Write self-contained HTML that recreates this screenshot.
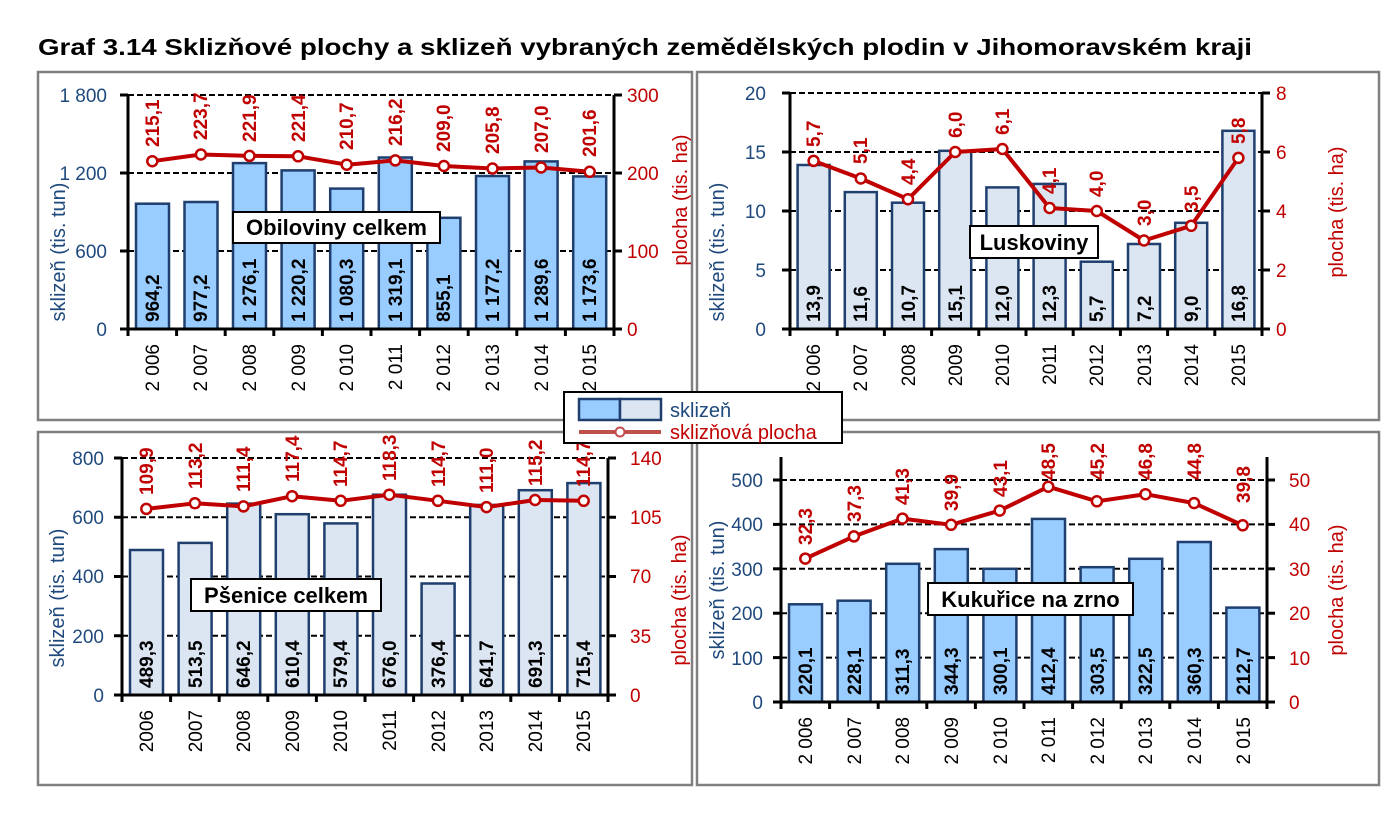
<!DOCTYPE html>
<html><head><meta charset="utf-8"><style>
body{margin:0;background:#fff;width:1388px;height:821px;overflow:hidden}
svg{font-family:"Liberation Sans",Arial,sans-serif}
.tl{font-size:19px;fill:#1f497d;text-anchor:end}
.tr{font-size:19px;fill:#c00000}
.yr{font-size:19px;fill:#000;text-anchor:end}
.bl{font-size:19px;font-weight:bold;fill:#000}
.rl{font-size:19px;font-weight:bold;fill:#c00000}
.at{font-size:20px;fill:#1f497d;text-anchor:middle}
.ar{font-size:20px;fill:#c00000;text-anchor:middle}
.g{stroke:#000;stroke-width:2;stroke-dasharray:6,3}
.b1{fill:#99ccff;stroke:#1f3f6e;stroke-width:2.5}
.b2{fill:#dce6f2;stroke:#1f3f6e;stroke-width:2.5}
.ln{fill:none;stroke:#c00000;stroke-width:4;stroke-linejoin:round}
.mk{fill:#fff;stroke:#c00000;stroke-width:2.5}
.ax{stroke:#000;stroke-width:3}
.lb{font-size:22px;font-weight:bold;fill:#000;text-anchor:middle}
</style></head><body>
<svg width="1388" height="821" xmlns="http://www.w3.org/2000/svg">
<text x="38" y="55" textLength="1214" lengthAdjust="spacingAndGlyphs" style="font-size:23px;font-weight:bold">Graf 3.14 Sklizňové plochy a sklizeň vybraných zemědělských plodin v Jihomoravském kraji</text>
<rect x="38" y="72" width="654" height="348" fill="none" stroke="#808080" stroke-width="2.5"/>
<rect x="697" y="72" width="682" height="348" fill="none" stroke="#808080" stroke-width="2.5"/>
<rect x="38" y="432" width="654" height="353" fill="none" stroke="#808080" stroke-width="2.5"/>
<rect x="697" y="432" width="682" height="353" fill="none" stroke="#808080" stroke-width="2.5"/>

<!-- Chart 1 -->
<g>
<line class="g" x1="128" y1="95" x2="614" y2="95"/><line class="g" x1="128" y1="173" x2="614" y2="173"/><line class="g" x1="128" y1="251" x2="614" y2="251"/>
<rect class="b1" x="136" y="203.7" width="33" height="125.3"/><rect class="b1" x="184.5" y="202" width="33" height="127"/><rect class="b1" x="233" y="163.1" width="33" height="165.9"/><rect class="b1" x="281.6" y="170.4" width="33" height="158.6"/><rect class="b1" x="330.2" y="188.6" width="33" height="140.4"/><rect class="b1" x="378.8" y="157.5" width="33" height="171.5"/><rect class="b1" x="427.4" y="217.8" width="33" height="111.2"/><rect class="b1" x="476" y="176" width="33" height="153"/><rect class="b1" x="524.6" y="161.4" width="33" height="167.6"/><rect class="b1" x="573.2" y="176.4" width="33" height="152.6"/>
<line class="ax" x1="128" y1="95" x2="128" y2="336"/><line class="ax" x1="614" y1="95" x2="614" y2="336"/><line class="ax" x1="120" y1="329" x2="622" y2="329"/>
<line class="ax" x1="120" y1="95" x2="128" y2="95"/><line class="ax" x1="120" y1="173" x2="128" y2="173"/><line class="ax" x1="120" y1="251" x2="128" y2="251"/>
<line class="ax" x1="614" y1="95" x2="622" y2="95"/><line class="ax" x1="614" y1="173" x2="622" y2="173"/><line class="ax" x1="614" y1="251" x2="622" y2="251"/>
<g class="ax"><line x1="176.6" y1="329" x2="176.6" y2="336"/><line x1="225.2" y1="329" x2="225.2" y2="336"/><line x1="273.8" y1="329" x2="273.8" y2="336"/><line x1="322.4" y1="329" x2="322.4" y2="336"/><line x1="371" y1="329" x2="371" y2="336"/><line x1="419.6" y1="329" x2="419.6" y2="336"/><line x1="468.2" y1="329" x2="468.2" y2="336"/><line x1="516.8" y1="329" x2="516.8" y2="336"/><line x1="565.4" y1="329" x2="565.4" y2="336"/></g>
<polyline class="ln" points="152.3,161.2 200.9,154.5 249.5,155.9 298.1,156.3 346.7,164.7 395.3,160.4 443.9,166 492.5,168.5 541.1,167.5 589.7,171.8"/>
<circle class="mk" cx="152.3" cy="161.2" r="5"/><circle class="mk" cx="200.9" cy="154.5" r="5"/><circle class="mk" cx="249.5" cy="155.9" r="5"/><circle class="mk" cx="298.1" cy="156.3" r="5"/><circle class="mk" cx="346.7" cy="164.7" r="5"/><circle class="mk" cx="395.3" cy="160.4" r="5"/><circle class="mk" cx="443.9" cy="166" r="5"/><circle class="mk" cx="492.5" cy="168.5" r="5"/><circle class="mk" cx="541.1" cy="167.5" r="5"/><circle class="mk" cx="589.7" cy="171.8" r="5"/>
<text class="rl" transform="translate(159,147) rotate(-90)">215,1</text><text class="rl" transform="translate(207,140) rotate(-90)">223,7</text><text class="rl" transform="translate(256,142) rotate(-90)">221,9</text><text class="rl" transform="translate(305,142) rotate(-90)">221,4</text><text class="rl" transform="translate(353,150) rotate(-90)">210,7</text><text class="rl" transform="translate(402,146) rotate(-90)">216,2</text><text class="rl" transform="translate(450,152) rotate(-90)">209,0</text><text class="rl" transform="translate(499,154) rotate(-90)">205,8</text><text class="rl" transform="translate(548,153) rotate(-90)">207,0</text><text class="rl" transform="translate(596,157) rotate(-90)">201,6</text>
<text class="bl" transform="translate(159,322) rotate(-90)">964,2</text><text class="bl" transform="translate(207,322) rotate(-90)">977,2</text><text class="bl" transform="translate(256,322) rotate(-90)">1 276,1</text><text class="bl" transform="translate(305,322) rotate(-90)">1 220,2</text><text class="bl" transform="translate(353,322) rotate(-90)">1 080,3</text><text class="bl" transform="translate(402,322) rotate(-90)">1 319,1</text><text class="bl" transform="translate(450,322) rotate(-90)">855,1</text><text class="bl" transform="translate(499,322) rotate(-90)">1 177,2</text><text class="bl" transform="translate(548,322) rotate(-90)">1 289,6</text><text class="bl" transform="translate(596,322) rotate(-90)">1 173,6</text>
<text class="yr" transform="translate(159,344) rotate(-90)">2 006</text><text class="yr" transform="translate(207,344) rotate(-90)">2 007</text><text class="yr" transform="translate(256,344) rotate(-90)">2 008</text><text class="yr" transform="translate(305,344) rotate(-90)">2 009</text><text class="yr" transform="translate(353,344) rotate(-90)">2 010</text><text class="yr" transform="translate(402,344) rotate(-90)">2 011</text><text class="yr" transform="translate(450,344) rotate(-90)">2 012</text><text class="yr" transform="translate(499,344) rotate(-90)">2 013</text><text class="yr" transform="translate(548,344) rotate(-90)">2 014</text><text class="yr" transform="translate(596,344) rotate(-90)">2 015</text>
<text class="tl" x="107" y="102">1 800</text><text class="tl" x="107" y="180">1 200</text><text class="tl" x="107" y="258">600</text><text class="tl" x="107" y="336">0</text>
<text class="tr" x="627" y="102">300</text><text class="tr" x="627" y="180">200</text><text class="tr" x="627" y="258">100</text><text class="tr" x="627" y="336">0</text>
<text class="at" transform="translate(65,252) rotate(-90)">sklizeň (tis. tun)</text>
<text class="ar" transform="translate(687,200) rotate(-90)">plocha (tis. ha)</text>
<rect x="233" y="212" width="207" height="31" fill="#fff" stroke="#000" stroke-width="2"/><text class="lb" x="336.5" y="235">Obiloviny celkem</text>
</g>

<!-- Chart 2 -->
<g>
<line class="g" x1="790" y1="93" x2="1262" y2="93"/><line class="g" x1="790" y1="152" x2="1262" y2="152"/><line class="g" x1="790" y1="211" x2="1262" y2="211"/><line class="g" x1="790" y1="270" x2="1262" y2="270"/>
<rect class="b2" x="797.6" y="165" width="32" height="164"/><rect class="b2" x="844.8" y="192.1" width="32" height="136.9"/><rect class="b2" x="892" y="202.7" width="32" height="126.3"/><rect class="b2" x="939.2" y="150.8" width="32" height="178.2"/><rect class="b2" x="986.4" y="187.4" width="32" height="141.6"/><rect class="b2" x="1033.6" y="183.9" width="32" height="145.1"/><rect class="b2" x="1080.8" y="261.7" width="32" height="67.3"/><rect class="b2" x="1128" y="244" width="32" height="85"/><rect class="b2" x="1175.2" y="222.8" width="32" height="106.2"/><rect class="b2" x="1222.4" y="130.8" width="32" height="198.2"/>
<line class="ax" x1="790" y1="93" x2="790" y2="336"/><line class="ax" x1="1262" y1="93" x2="1262" y2="336"/><line class="ax" x1="782" y1="329" x2="1270" y2="329"/>
<g class="ax"><line x1="782" y1="93" x2="790" y2="93"/><line x1="782" y1="152" x2="790" y2="152"/><line x1="782" y1="211" x2="790" y2="211"/><line x1="782" y1="270" x2="790" y2="270"/>
<line x1="1262" y1="93" x2="1270" y2="93"/><line x1="1262" y1="152" x2="1270" y2="152"/><line x1="1262" y1="211" x2="1270" y2="211"/><line x1="1262" y1="270" x2="1270" y2="270"/>
<line x1="837.2" y1="329" x2="837.2" y2="336"/><line x1="884.4" y1="329" x2="884.4" y2="336"/><line x1="931.6" y1="329" x2="931.6" y2="336"/><line x1="978.8" y1="329" x2="978.8" y2="336"/><line x1="1026" y1="329" x2="1026" y2="336"/><line x1="1073.2" y1="329" x2="1073.2" y2="336"/><line x1="1120.4" y1="329" x2="1120.4" y2="336"/><line x1="1167.6" y1="329" x2="1167.6" y2="336"/><line x1="1214.8" y1="329" x2="1214.8" y2="336"/></g>
<polyline class="ln" points="813.6,160.9 860.8,178.5 908,199.2 955.2,152 1002.4,149 1049.6,208 1096.8,211 1144,240.5 1191.2,225.8 1238.4,157.9"/>
<circle class="mk" cx="813.6" cy="160.9" r="5"/><circle class="mk" cx="860.8" cy="178.5" r="5"/><circle class="mk" cx="908" cy="199.2" r="5"/><circle class="mk" cx="955.2" cy="152" r="5"/><circle class="mk" cx="1002.4" cy="149" r="5"/><circle class="mk" cx="1049.6" cy="208" r="5"/><circle class="mk" cx="1096.8" cy="211" r="5"/><circle class="mk" cx="1144" cy="240.5" r="5"/><circle class="mk" cx="1191.2" cy="225.8" r="5"/><circle class="mk" cx="1238.4" cy="157.9" r="5"/>
<text class="rl" transform="translate(820,147) rotate(-90)">5,7</text><text class="rl" transform="translate(867,164) rotate(-90)">5,1</text><text class="rl" transform="translate(915,185) rotate(-90)">4,4</text><text class="rl" transform="translate(962,138) rotate(-90)">6,0</text><text class="rl" transform="translate(1009,135) rotate(-90)">6,1</text><text class="rl" transform="translate(1056,194) rotate(-90)">4,1</text><text class="rl" transform="translate(1103,197) rotate(-90)">4,0</text><text class="rl" transform="translate(1151,226) rotate(-90)">3,0</text><text class="rl" transform="translate(1198,212) rotate(-90)">3,5</text><text class="rl" transform="translate(1245,144) rotate(-90)">5,8</text>
<text class="bl" transform="translate(820,322) rotate(-90)">13,9</text><text class="bl" transform="translate(867,322) rotate(-90)">11,6</text><text class="bl" transform="translate(915,322) rotate(-90)">10,7</text><text class="bl" transform="translate(962,322) rotate(-90)">15,1</text><text class="bl" transform="translate(1009,322) rotate(-90)">12,0</text><text class="bl" transform="translate(1056,322) rotate(-90)">12,3</text><text class="bl" transform="translate(1103,322) rotate(-90)">5,7</text><text class="bl" transform="translate(1151,322) rotate(-90)">7,2</text><text class="bl" transform="translate(1198,322) rotate(-90)">9,0</text><text class="bl" transform="translate(1245,322) rotate(-90)">16,8</text>
<text class="yr" transform="translate(820,344) rotate(-90)">2 006</text><text class="yr" transform="translate(867,344) rotate(-90)">2 007</text><text class="yr" transform="translate(915,344) rotate(-90)">2008</text><text class="yr" transform="translate(962,344) rotate(-90)">2009</text><text class="yr" transform="translate(1009,344) rotate(-90)">2010</text><text class="yr" transform="translate(1056,344) rotate(-90)">2011</text><text class="yr" transform="translate(1103,344) rotate(-90)">2012</text><text class="yr" transform="translate(1151,344) rotate(-90)">2013</text><text class="yr" transform="translate(1198,344) rotate(-90)">2014</text><text class="yr" transform="translate(1245,344) rotate(-90)">2015</text>
<text class="tl" x="766" y="100">20</text><text class="tl" x="766" y="159">15</text><text class="tl" x="766" y="218">10</text><text class="tl" x="766" y="277">5</text><text class="tl" x="766" y="336">0</text>
<text class="tr" x="1276" y="100">8</text><text class="tr" x="1276" y="159">6</text><text class="tr" x="1276" y="218">4</text><text class="tr" x="1276" y="277">2</text><text class="tr" x="1276" y="336">0</text>
<text class="at" transform="translate(724,252) rotate(-90)">sklizeň (tis. tun)</text>
<text class="ar" transform="translate(1343,212) rotate(-90)">plocha (tis. ha)</text>
<rect x="970" y="226" width="128" height="32" fill="#fff" stroke="#000" stroke-width="2"/><text class="lb" x="1034" y="250">Luskoviny</text>
</g>

<!-- Chart 3 -->
<g>
<line class="g" x1="122" y1="458" x2="608" y2="458"/><line class="g" x1="122" y1="517.25" x2="608" y2="517.25"/><line class="g" x1="122" y1="576.5" x2="608" y2="576.5"/><line class="g" x1="122" y1="635.75" x2="608" y2="635.75"/>
<rect class="b2" x="130" y="550" width="33" height="145"/><rect class="b2" x="178.6" y="542.9" width="33" height="152.1"/><rect class="b2" x="227.2" y="503.6" width="33" height="191.4"/><rect class="b2" x="275.8" y="514.2" width="33" height="180.8"/><rect class="b2" x="324.4" y="523.4" width="33" height="171.6"/><rect class="b2" x="373" y="494.7" width="33" height="200.3"/><rect class="b2" x="421.6" y="583.5" width="33" height="111.5"/><rect class="b2" x="470.2" y="504.9" width="33" height="190.1"/><rect class="b2" x="518.8" y="490.2" width="33" height="204.8"/><rect class="b2" x="567.4" y="483.1" width="33" height="211.9"/>
<line class="ax" x1="122" y1="458" x2="122" y2="702"/><line class="ax" x1="608" y1="458" x2="608" y2="702"/><line class="ax" x1="114" y1="695" x2="616" y2="695"/>
<g class="ax"><line x1="114" y1="458" x2="122" y2="458"/><line x1="114" y1="517.25" x2="122" y2="517.25"/><line x1="114" y1="576.5" x2="122" y2="576.5"/><line x1="114" y1="635.75" x2="122" y2="635.75"/>
<line x1="608" y1="458" x2="616" y2="458"/><line x1="608" y1="517.25" x2="616" y2="517.25"/><line x1="608" y1="576.5" x2="616" y2="576.5"/><line x1="608" y1="635.75" x2="616" y2="635.75"/>
<line x1="170.6" y1="695" x2="170.6" y2="702"/><line x1="219.2" y1="695" x2="219.2" y2="702"/><line x1="267.8" y1="695" x2="267.8" y2="702"/><line x1="316.4" y1="695" x2="316.4" y2="702"/><line x1="365" y1="695" x2="365" y2="702"/><line x1="413.6" y1="695" x2="413.6" y2="702"/><line x1="462.2" y1="695" x2="462.2" y2="702"/><line x1="510.8" y1="695" x2="510.8" y2="702"/><line x1="559.4" y1="695" x2="559.4" y2="702"/></g>
<polyline class="ln" points="146.3,508.9 194.9,503.3 243.5,506.4 292.1,496.2 340.7,500.8 389.3,494.7 437.9,500.8 486.5,507.1 535.1,500 583.7,500.8"/>
<circle class="mk" cx="146.3" cy="508.9" r="5"/><circle class="mk" cx="194.9" cy="503.3" r="5"/><circle class="mk" cx="243.5" cy="506.4" r="5"/><circle class="mk" cx="292.1" cy="496.2" r="5"/><circle class="mk" cx="340.7" cy="500.8" r="5"/><circle class="mk" cx="389.3" cy="494.7" r="5"/><circle class="mk" cx="437.9" cy="500.8" r="5"/><circle class="mk" cx="486.5" cy="507.1" r="5"/><circle class="mk" cx="535.1" cy="500" r="5"/><circle class="mk" cx="583.7" cy="500.8" r="5"/>
<text class="rl" transform="translate(153,495) rotate(-90)">109,9</text><text class="rl" transform="translate(202,489) rotate(-90)">113,2</text><text class="rl" transform="translate(250,492) rotate(-90)">111,4</text><text class="rl" transform="translate(299,482) rotate(-90)">117,4</text><text class="rl" transform="translate(347,487) rotate(-90)">114,7</text><text class="rl" transform="translate(396,481) rotate(-90)">118,3</text><text class="rl" transform="translate(445,487) rotate(-90)">114,7</text><text class="rl" transform="translate(493,493) rotate(-90)">111,0</text><text class="rl" transform="translate(542,486) rotate(-90)">115,2</text><text class="rl" transform="translate(590,487) rotate(-90)">114,7</text>
<text class="bl" transform="translate(153,688) rotate(-90)">489,3</text><text class="bl" transform="translate(202,688) rotate(-90)">513,5</text><text class="bl" transform="translate(250,688) rotate(-90)">646,2</text><text class="bl" transform="translate(299,688) rotate(-90)">610,4</text><text class="bl" transform="translate(347,688) rotate(-90)">579,4</text><text class="bl" transform="translate(396,688) rotate(-90)">676,0</text><text class="bl" transform="translate(445,688) rotate(-90)">376,4</text><text class="bl" transform="translate(493,688) rotate(-90)">641,7</text><text class="bl" transform="translate(542,688) rotate(-90)">691,3</text><text class="bl" transform="translate(590,688) rotate(-90)">715,4</text>
<text class="yr" transform="translate(153,710) rotate(-90)">2006</text><text class="yr" transform="translate(202,710) rotate(-90)">2007</text><text class="yr" transform="translate(250,710) rotate(-90)">2008</text><text class="yr" transform="translate(299,710) rotate(-90)">2009</text><text class="yr" transform="translate(347,710) rotate(-90)">2010</text><text class="yr" transform="translate(396,710) rotate(-90)">2011</text><text class="yr" transform="translate(445,710) rotate(-90)">2012</text><text class="yr" transform="translate(493,710) rotate(-90)">2013</text><text class="yr" transform="translate(542,710) rotate(-90)">2014</text><text class="yr" transform="translate(590,710) rotate(-90)">2015</text>
<text class="tl" x="104" y="465">800</text><text class="tl" x="104" y="524">600</text><text class="tl" x="104" y="583">400</text><text class="tl" x="104" y="643">200</text><text class="tl" x="104" y="702">0</text>
<text class="tr" x="630" y="465">140</text><text class="tr" x="630" y="524">105</text><text class="tr" x="630" y="583">70</text><text class="tr" x="630" y="643">35</text><text class="tr" x="630" y="702">0</text>
<text class="at" transform="translate(64,598) rotate(-90)">sklizeň (tis. tun)</text>
<text class="ar" transform="translate(686,600) rotate(-90)">plocha (tis. ha)</text>
<rect x="191" y="579" width="190" height="32" fill="#fff" stroke="#000" stroke-width="2"/><text class="lb" x="286" y="603">Pšenice celkem</text>
</g>

<!-- Chart 4 -->
<g>
<line class="g" x1="781" y1="480" x2="1267" y2="480"/><line class="g" x1="781" y1="524.4" x2="1267" y2="524.4"/><line class="g" x1="781" y1="568.8" x2="1267" y2="568.8"/><line class="g" x1="781" y1="613.2" x2="1267" y2="613.2"/><line class="g" x1="781" y1="657.6" x2="1267" y2="657.6"/>
<rect class="b1" x="789" y="604.3" width="33" height="97.7"/><rect class="b1" x="837.6" y="600.7" width="33" height="101.3"/><rect class="b1" x="886.2" y="563.8" width="33" height="138.2"/><rect class="b1" x="934.8" y="549.1" width="33" height="152.9"/><rect class="b1" x="983.4" y="568.8" width="33" height="133.2"/><rect class="b1" x="1032" y="518.9" width="33" height="183.1"/><rect class="b1" x="1080.6" y="567.2" width="33" height="134.8"/><rect class="b1" x="1129.2" y="558.8" width="33" height="143.2"/><rect class="b1" x="1177.8" y="542" width="33" height="160"/><rect class="b1" x="1226.4" y="607.6" width="33" height="94.4"/>
<line class="ax" x1="781" y1="457" x2="781" y2="709"/><line class="ax" x1="1267" y1="457" x2="1267" y2="709"/><line class="ax" x1="773" y1="702" x2="1275" y2="702"/>
<g class="ax"><line x1="773" y1="480" x2="781" y2="480"/><line x1="773" y1="524.4" x2="781" y2="524.4"/><line x1="773" y1="568.8" x2="781" y2="568.8"/><line x1="773" y1="613.2" x2="781" y2="613.2"/><line x1="773" y1="657.6" x2="781" y2="657.6"/>
<line x1="1267" y1="480" x2="1275" y2="480"/><line x1="1267" y1="524.4" x2="1275" y2="524.4"/><line x1="1267" y1="568.8" x2="1275" y2="568.8"/><line x1="1267" y1="613.2" x2="1275" y2="613.2"/><line x1="1267" y1="657.6" x2="1275" y2="657.6"/>
<line x1="829.6" y1="702" x2="829.6" y2="709"/><line x1="878.2" y1="702" x2="878.2" y2="709"/><line x1="926.8" y1="702" x2="926.8" y2="709"/><line x1="975.4" y1="702" x2="975.4" y2="709"/><line x1="1024" y1="702" x2="1024" y2="709"/><line x1="1072.6" y1="702" x2="1072.6" y2="709"/><line x1="1121.2" y1="702" x2="1121.2" y2="709"/><line x1="1169.8" y1="702" x2="1169.8" y2="709"/><line x1="1218.4" y1="702" x2="1218.4" y2="709"/></g>
<polyline class="ln" points="805.3,558.6 853.9,536.4 902.5,518.6 951.1,524.8 999.7,510.6 1048.3,486.7 1096.9,501.3 1145.5,494.2 1194.1,503.1 1242.7,525.3"/>
<circle class="mk" cx="805.3" cy="558.6" r="5"/><circle class="mk" cx="853.9" cy="536.4" r="5"/><circle class="mk" cx="902.5" cy="518.6" r="5"/><circle class="mk" cx="951.1" cy="524.8" r="5"/><circle class="mk" cx="999.7" cy="510.6" r="5"/><circle class="mk" cx="1048.3" cy="486.7" r="5"/><circle class="mk" cx="1096.9" cy="501.3" r="5"/><circle class="mk" cx="1145.5" cy="494.2" r="5"/><circle class="mk" cx="1194.1" cy="503.1" r="5"/><circle class="mk" cx="1242.7" cy="525.3" r="5"/>
<text class="rl" transform="translate(812,545) rotate(-90)">32,3</text><text class="rl" transform="translate(861,522) rotate(-90)">37,3</text><text class="rl" transform="translate(909,505) rotate(-90)">41,3</text><text class="rl" transform="translate(958,511) rotate(-90)">39,9</text><text class="rl" transform="translate(1007,497) rotate(-90)">43,1</text><text class="rl" transform="translate(1055,480) rotate(-90)">48,5</text><text class="rl" transform="translate(1104,480) rotate(-90)">45,2</text><text class="rl" transform="translate(1152,480) rotate(-90)">46,8</text><text class="rl" transform="translate(1201,480) rotate(-90)">44,8</text><text class="rl" transform="translate(1250,503) rotate(-90)">39,8</text>
<text class="bl" transform="translate(812,695) rotate(-90)">220,1</text><text class="bl" transform="translate(861,695) rotate(-90)">228,1</text><text class="bl" transform="translate(909,695) rotate(-90)">311,3</text><text class="bl" transform="translate(958,695) rotate(-90)">344,3</text><text class="bl" transform="translate(1007,695) rotate(-90)">300,1</text><text class="bl" transform="translate(1055,695) rotate(-90)">412,4</text><text class="bl" transform="translate(1104,695) rotate(-90)">303,5</text><text class="bl" transform="translate(1152,695) rotate(-90)">322,5</text><text class="bl" transform="translate(1201,695) rotate(-90)">360,3</text><text class="bl" transform="translate(1250,695) rotate(-90)">212,7</text>
<text class="yr" transform="translate(812,717) rotate(-90)">2 006</text><text class="yr" transform="translate(861,717) rotate(-90)">2 007</text><text class="yr" transform="translate(909,717) rotate(-90)">2 008</text><text class="yr" transform="translate(958,717) rotate(-90)">2 009</text><text class="yr" transform="translate(1007,717) rotate(-90)">2 010</text><text class="yr" transform="translate(1055,717) rotate(-90)">2 011</text><text class="yr" transform="translate(1104,717) rotate(-90)">2 012</text><text class="yr" transform="translate(1152,717) rotate(-90)">2 013</text><text class="yr" transform="translate(1201,717) rotate(-90)">2 014</text><text class="yr" transform="translate(1250,717) rotate(-90)">2 015</text>
<text class="tl" x="763" y="487">500</text><text class="tl" x="763" y="531">400</text><text class="tl" x="763" y="576">300</text><text class="tl" x="763" y="620">200</text><text class="tl" x="763" y="665">100</text><text class="tl" x="763" y="709">0</text>
<text class="tr" x="1289" y="487">50</text><text class="tr" x="1289" y="531">40</text><text class="tr" x="1289" y="576">30</text><text class="tr" x="1289" y="620">20</text><text class="tr" x="1289" y="665">10</text><text class="tr" x="1289" y="709">0</text>
<text class="at" transform="translate(724,590) rotate(-90)">sklizeň (tis. tun)</text>
<text class="ar" transform="translate(1343,590) rotate(-90)">plocha (tis. ha)</text>
<rect x="928" y="583" width="205" height="32" fill="#fff" stroke="#000" stroke-width="2"/><text class="lb" x="1030.5" y="607">Kukuřice na zrno</text>
</g>

<!-- Legend -->
<rect x="564" y="392" width="278" height="51" fill="#fff" stroke="#000" stroke-width="2"/>
<rect x="579" y="399" width="41" height="21" fill="#99ccff" stroke="#1f3f6e" stroke-width="2.5"/>
<rect x="620" y="399" width="41" height="21" fill="#dce6f2" stroke="#1f3f6e" stroke-width="2.5"/>
<text x="670" y="417" style="font-size:20px;fill:#1f497d">sklizeň</text>
<line x1="579" y1="432" x2="661" y2="432" stroke="#c0504d" stroke-width="4"/>
<circle cx="620" cy="432" r="4.5" fill="#fff" stroke="#c0504d" stroke-width="2"/>
<text x="670" y="439" style="font-size:20px;fill:#c00000">sklizňová plocha</text>
</svg>
</body></html>
